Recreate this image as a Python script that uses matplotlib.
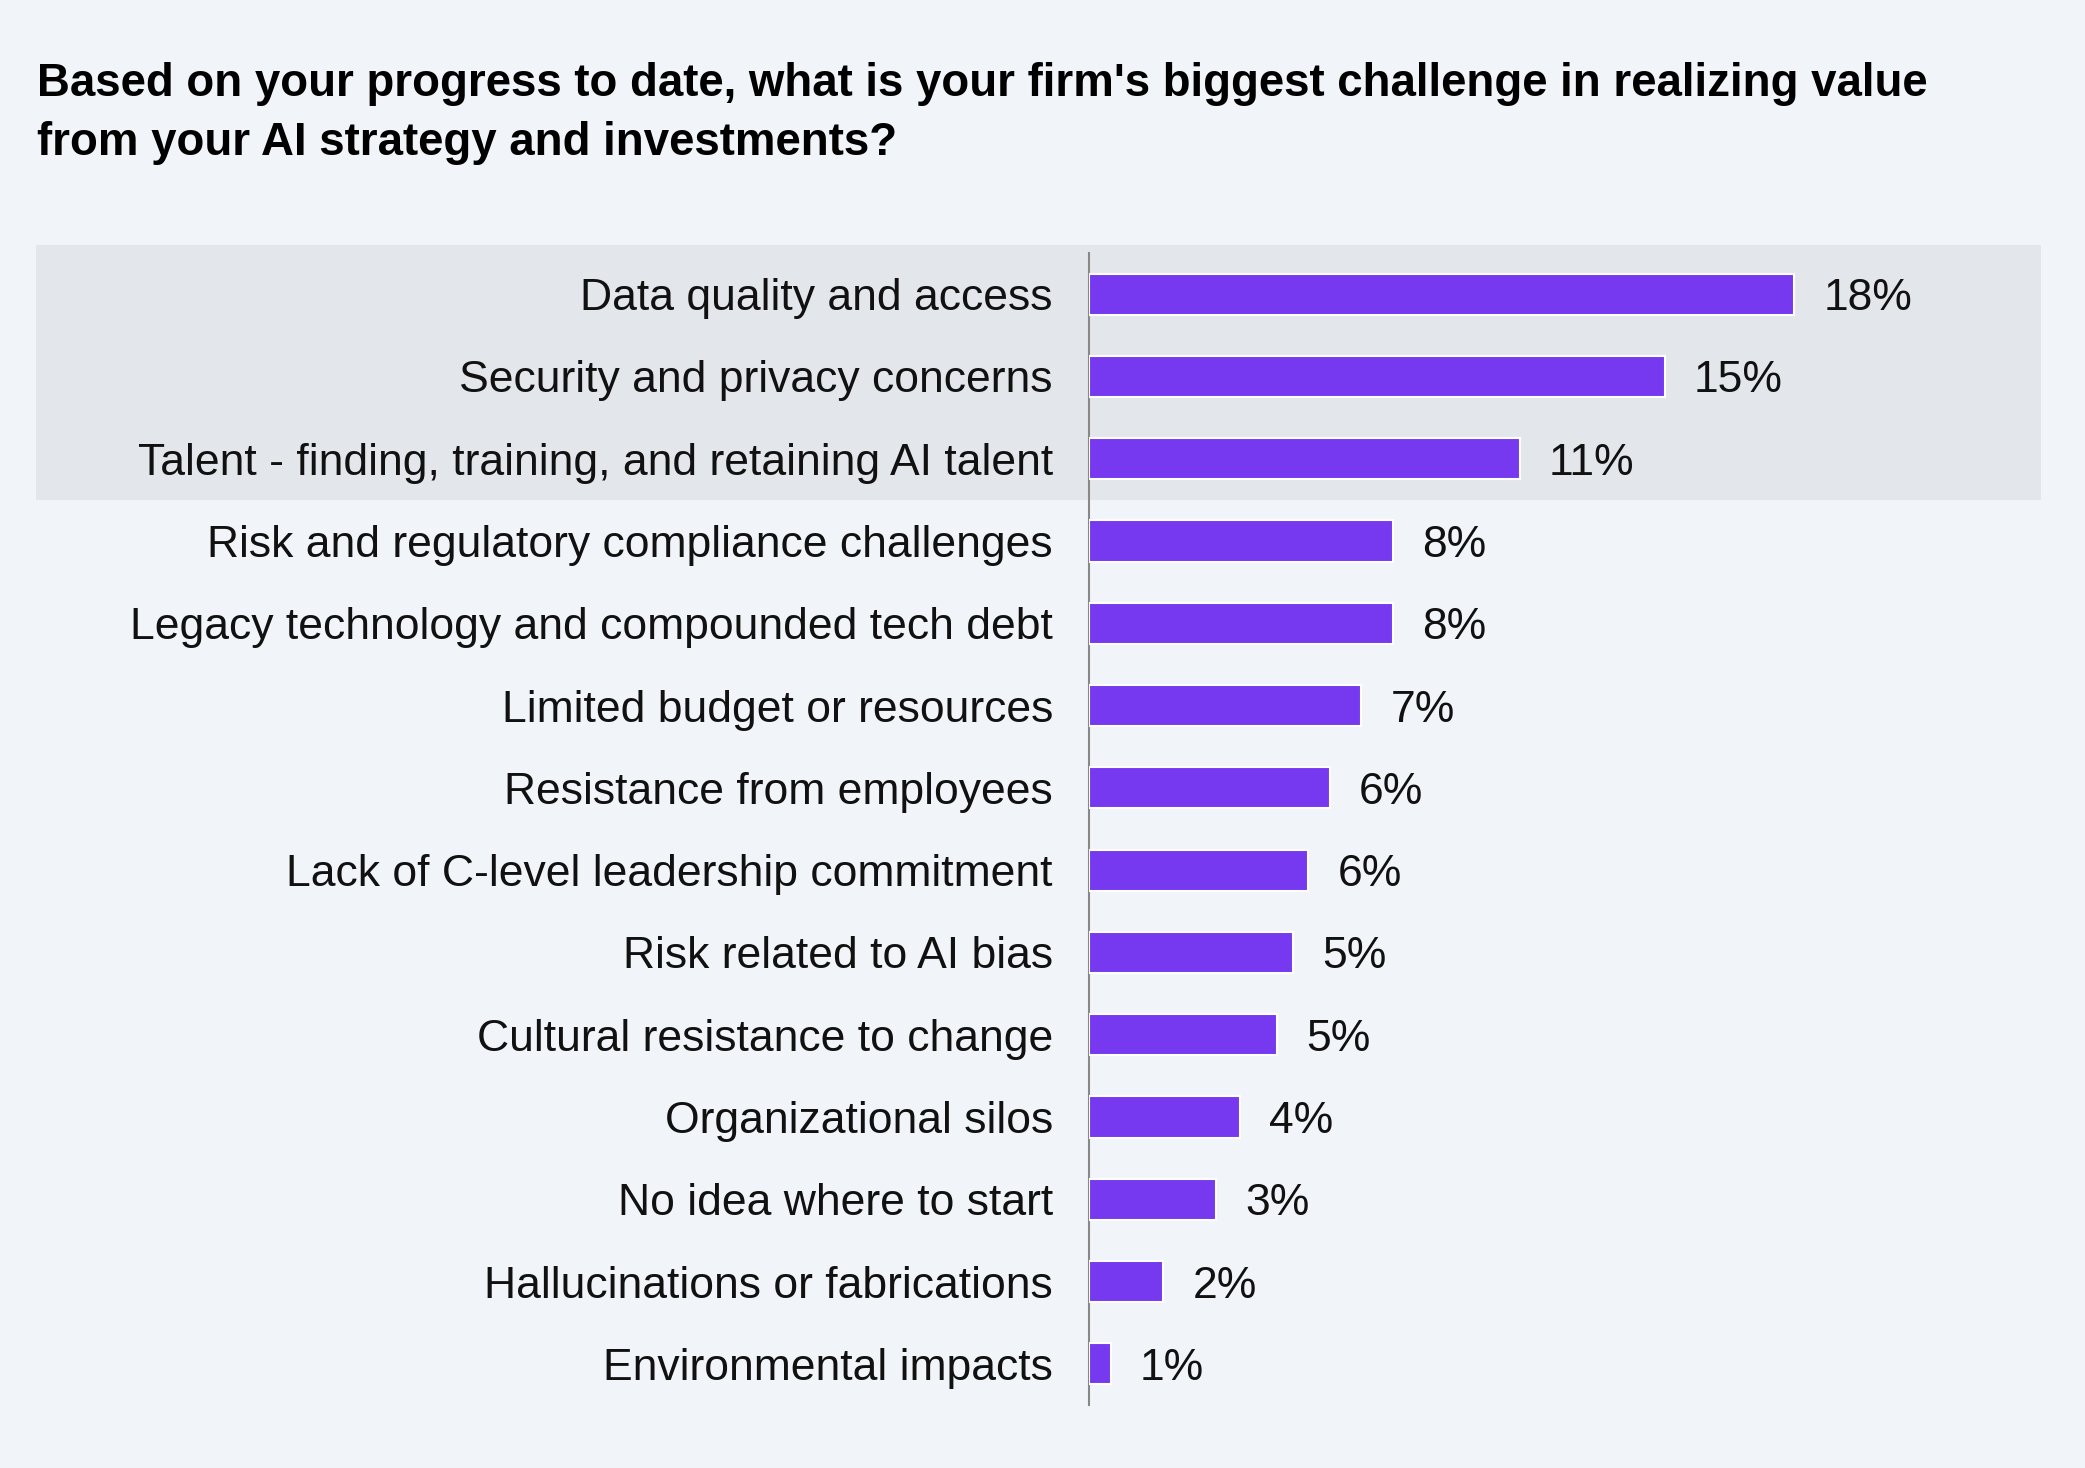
import matplotlib
matplotlib.use("Agg")
import matplotlib.pyplot as plt
import matplotlib.transforms as mtransforms
from matplotlib.patches import Rectangle

# Survey answers, top to bottom
categories = [
    "Data quality and access",
    "Security and privacy concerns",
    "Talent - finding, training, and retaining AI talent",
    "Risk and regulatory compliance challenges",
    "Legacy technology and compounded tech debt",
    "Limited budget or resources",
    "Resistance from employees",
    "Lack of C-level leadership commitment",
    "Risk related to AI bias",
    "Cultural resistance to change",
    "Organizational silos",
    "No idea where to start",
    "Hallucinations or fabrications",
    "Environmental impacts",
]
values = [18.0, 14.7, 11.0, 7.75, 7.75, 6.95, 6.15, 5.6, 5.2, 4.8, 3.85, 3.25, 1.9, 0.55]
value_labels = ["18%", "15%", "11%", "8%", "8%", "7%", "6%", "6%", "5%", "5%", "4%", "3%", "2%", "1%"]
n_highlight = 3

title = ("Based on your progress to date, what is your firm's biggest challenge in realizing value\n"
         "from your AI strategy and investments?")

bg = "#f1f5f9"
band = "#e3e7ec"
bar_color = "#7639f0"
label_font = "Liberation Sans"

fig = plt.figure(figsize=(20.85, 14.68), dpi=100)
fig.patch.set_facecolor(bg)

ax = fig.add_axes([0.5223, 0.0429, 0.4566, 0.7848])
ax.set_facecolor("none")
ax.set_zorder(2)

pos = list(range(len(categories)))
ax.barh(pos, values, height=0.5, color=bar_color, edgecolor="white", linewidth=1.5, zorder=3)

ax.set_ylim(len(categories) - 0.5, -0.5)
ax.set_xlim(0, 24.3)

# highlighted band behind the top rows, spanning the full width
trans = mtransforms.blended_transform_factory(fig.transFigure, ax.transData)
fig.patches.append(Rectangle((0.0173, -0.6), 0.9617, n_highlight - 0.5 + 0.6,
                             transform=trans, facecolor=band, edgecolor="none", zorder=0))

ax.set_yticks(pos)
ax.set_yticklabels(categories, fontsize=32, family=label_font, color="#111111")
ax.tick_params(axis="y", length=0, pad=26)
ax.set_xticks([])

for s in ["top", "right", "bottom"]:
    ax.spines[s].set_visible(False)
ax.spines["left"].set_color("#888888")
ax.spines["left"].set_linewidth(1.5)

for p, v, lab in zip(pos, values, value_labels):
    ax.annotate(lab, (v, p), xytext=(21, 0), textcoords="offset points",
                va="center_baseline", ha="left", fontsize=32, family=label_font, color="#111111")

fig.text(0.0177, 0.958, title, ha="left", va="top", fontsize=32.9, fontweight="bold",
         family="Liberation Sans", color="#000000", linespacing=1.44)

fig.savefig("out.png", dpi=100, facecolor=bg)
